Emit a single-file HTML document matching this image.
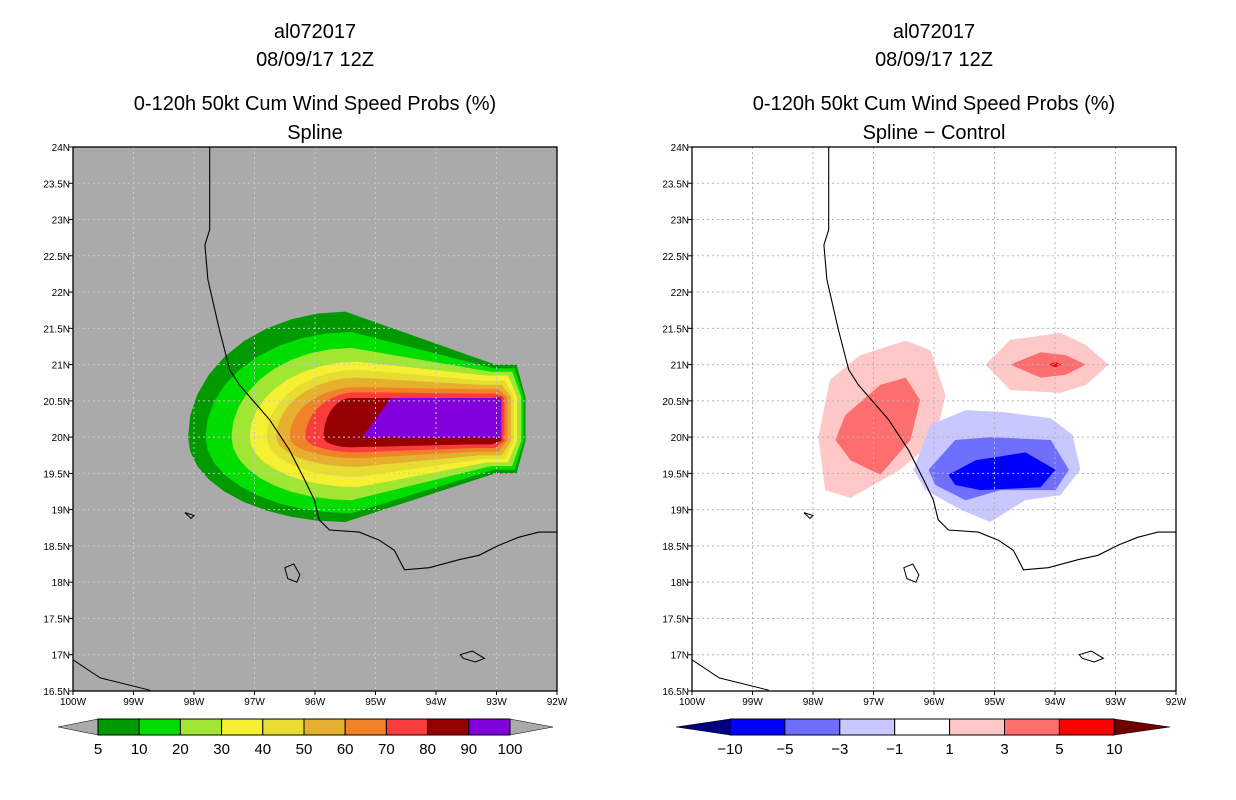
<!DOCTYPE html>
<html><head><meta charset="utf-8"><style>
body{margin:0;background:#fff;width:1236px;height:800px;overflow:hidden}
svg{display:block;font-family:"Liberation Sans",sans-serif}
</style></head><body>
<svg id="s" width="1236" height="800"></svg>
<script>
// ---- data ----
const probLevels=[5,10,20,30,40,50,60,70,80,90,100];
const probColors=["#009900","#00dd00","#a0e632","#f5f032","#e6dc32","#e6af2d","#f08228","#fa3c3c","#960000","#8200dc"];
// per-level contour shape (lon/lat)
const lvWest=[-98.10,-97.81,-97.38,-97.08,-96.80,-96.64,-96.42,-96.16,-95.86];
const lvEast=[-92.52,-92.55,-92.59,-92.66,-92.71,-92.76,-92.82,-92.87,-92.92];
const lvNorth=[21.73,21.45,21.23,21.04,20.93,20.82,20.69,20.62,20.54];
const lvSouth=[18.83,18.95,19.13,19.31,19.45,19.59,19.71,19.79,19.86];
const lvTailN=[21.0,20.95,20.9,20.85,20.78,20.72,20.66,20.6,20.54];
const lvTailS=[19.5,19.55,19.6,19.65,19.7,19.75,19.8,19.85,19.9];
const lvCrest=[-95.5,-95.4,-95.4,-95.3,-95.3,-95.3,-95.3,-95.3,-95.4];
const purpleLon=[-95.22,-94.74,-92.92,-92.92];
const purpleLat=[20.0,20.54,20.54,20.0];
// difference field polygons
const diffPolys=[
 {c:"#ffc8c8",lon:[-97.91,-97.72,-97.22,-96.47,-96.06,-95.81,-95.98,-96.56,-97.38,-97.80],lat:[20.0,20.79,21.13,21.33,21.20,20.58,19.96,19.55,19.16,19.27]},
 {c:"#ff6e6e",lon:[-97.63,-97.47,-96.89,-96.47,-96.23,-96.39,-96.89,-97.38],lat:[19.96,20.30,20.72,20.82,20.51,19.96,19.48,19.68]},
 {c:"#ffc8c8",lon:[-95.15,-94.74,-93.91,-93.49,-93.11,-93.49,-93.91,-94.74],lat:[21.0,21.34,21.44,21.27,21.0,20.72,20.61,20.65]},
 {c:"#ff6e6e",lon:[-94.74,-94.24,-93.82,-93.49,-93.82,-94.24],lat:[21.0,21.17,21.13,21.0,20.86,20.82]},
 {c:"#ff0000",lon:[-94.1,-94.0,-93.9,-94.0],lat:[21.0,21.04,21.0,20.96]},
 {c:"#c8c8ff",lon:[-96.34,-96.06,-95.48,-94.90,-94.07,-93.71,-93.58,-93.91,-94.49,-95.07,-95.56,-96.14],lat:[19.55,20.17,20.37,20.35,20.26,20.03,19.55,19.20,19.13,18.83,19.0,19.27]},
 {c:"#6e6eff",lon:[-96.09,-95.65,-95.07,-94.07,-93.77,-93.99,-94.90,-95.48,-95.98],lat:[19.55,19.96,20.0,19.96,19.55,19.27,19.27,19.13,19.34]},
 {c:"#0000ff",lon:[-95.76,-95.31,-94.49,-93.99,-94.24,-95.23,-95.65],lat:[19.48,19.68,19.79,19.55,19.31,19.27,19.34]}
];
const coastLon=[-97.74,-97.74,-97.82,-97.77,-97.58,-97.41,-97.25,-96.75,-96.42,-96.17,-96.01,-95.93,-95.76,-95.27,-94.94,-94.69,-94.52,-94.11,-93.62,-93.29,-92.96,-92.63,-92.30,-92.0];
const coastLat=[24,22.86,22.65,22.17,21.48,20.93,20.72,20.24,19.82,19.41,19.13,18.86,18.72,18.69,18.58,18.44,18.17,18.20,18.31,18.37,18.51,18.62,18.69,18.69];
const coast2Lon=[-100,-99.55,-98.73];const coast2Lat=[16.93,16.68,16.51];
const islands=[{lon:[-98.15,-98.0,-98.05,-98.15],lat:[18.96,18.92,18.88,18.96]},
 {lon:[-96.5,-96.35,-96.25,-96.3,-96.45],lat:[18.2,18.25,18.1,18.0,18.05]},
 {lon:[-93.6,-93.4,-93.2,-93.35,-93.55],lat:[17.0,17.05,16.95,16.9,16.95]}];
const latTicks=["24N","23.5N","23N","22.5N","22N","21.5N","21N","20.5N","20N","19.5N","19N","18.5N","18N","17.5N","17N","16.5N"];
const lonTicks=["100W","99W","98W","97W","96W","95W","94W","93W","92W"];
const diffLevels=["-10","-5","-3","-1","1","3","5","10"];
const diffColors=["#0000ff","#6e6eff","#c8c8ff","#ffffff","#ffc8c8","#ff6e6e","#ff0000"];

const NS="http://www.w3.org/2000/svg",S=document.getElementById('s');
function el(t,a,p){const e=document.createElementNS(NS,t);for(const k in a)e.setAttribute(k,a[k]);(p||S).appendChild(e);return e}
function txt(x,y,s,size,anchor,p){const e=el('text',{x:x,y:y,'font-size':size,'text-anchor':anchor||'middle',fill:'#000'},p);e.textContent=s;return e}
function mk(x0){return{x:lon=>x0+(lon+100)*60.5,y:lat=>147+(24-lat)*72.53}}
function pts(m,lons,lats){return lons.map((l,i)=>m.x(l).toFixed(1)+','+m.y(lats[i]).toFixed(1)).join(' ')}

function levelPoly(i){
 const W=lvWest[i],E=lvEast[i],N=lvNorth[i],Sx=lvSouth[i],cx=lvCrest[i];
 const lo=[],la=[];
 for(let a=180;a>=90;a-=10){const r=a*Math.PI/180;lo.push(cx+(cx-W)*Math.cos(r));la.push(20+(N-20)*Math.sin(r));}
 lo.push(E-0.5,E-0.15,E,E,E-0.15,E-0.5);la.push(lvTailN[i],lvTailN[i],20.55,19.95,lvTailS[i],lvTailS[i]);
 for(let a=270;a>=180;a-=10){const r=a*Math.PI/180;lo.push(cx+(cx-W)*Math.cos(r));la.push(20+(20-Sx)*Math.sin(r));}
 return [lo,la];
}

function panel(x0,bg,name,sub){
 const m=mk(x0),g=el('g',{});
 
 
 const bgr=el('rect',{x:x0,y:147,width:484,height:544,fill:bg},g);
 
 
 if(bg!=='#fff'){
  for(let i=0;i<lvWest.length;i++){const [lo,la]=levelPoly(i);
   const p=el('polygon',{points:pts(m,lo,la),fill:probColors[i]},g);
   
   }
  const p=el('polygon',{points:pts(m,purpleLon,purpleLat),fill:probColors[9]},g);
  
  
 } else {
  diffPolys.forEach((d,i)=>{const p=el('polygon',{points:pts(m,d.lon,d.lat),fill:d.c},g);
   
   });
 }
 // grid
 const gc=bg==='#fff'?'#b4b4b4':'#c8c8c8';
 for(let k=1;k<8;k++){const x=m.x(-100+k);el('line',{x1:x,y1:147,x2:x,y2:691,stroke:gc,'stroke-dasharray':'2,3'},g);}
 for(let k=1;k<15;k++){const y=m.y(16.5+k*0.5);el('line',{x1:x0,y1:y,x2:x0+484,y2:y,stroke:gc,'stroke-dasharray':'2,3'},g);}
 // coast
 const c=el('polyline',{points:pts(m,coastLon,coastLat),fill:'none',stroke:'#000','stroke-width':1.1},g);
 
 
 el('polyline',{points:pts(m,coast2Lon,coast2Lat),fill:'none',stroke:'#000'},g);
 islands.forEach(s=>el('polygon',{points:pts(m,s.lon,s.lat),fill:'none',stroke:'#000'},g));
 el('rect',{x:x0,y:147,width:484,height:544,fill:'none',stroke:'#000','stroke-width':1.3},g);
 latTicks.forEach((t,i)=>{const y=m.y(24-i*0.5);el('line',{x1:x0-4,y1:y,x2:x0,y2:y,stroke:'#000'},g);txt(x0-3,y+4,t,10,'end',g);});
 lonTicks.forEach((t,i)=>{const x=m.x(-100+i);el('line',{x1:x,y1:691,x2:x,y2:695,stroke:'#000'},g);txt(x,705,t,10,'middle',g);});
 const cx=x0+242;
 const t1=txt(cx,38,'al072017',20,'middle',g);
 const t2=txt(cx,66,'08/09/17 12Z',20,'middle',g);
 const t3=txt(cx,110,'0-120h 50kt Cum Wind Speed Probs (%)',20,'middle',g);
 const t4=txt(cx,139,sub,20,'middle',g);
}
panel(73,'#aaaaaa','left-map','Spline');
panel(692,'#fff','right-map','Spline \u2212 Control');

// left colorbar
(function(){const g=el('g',{});
 
 
 const x0=98,w=41.2,y=719,h=16;
 el('polygon',{points:`58,727 ${x0},${y} ${x0},${y+h}`,fill:'#aaaaaa',stroke:'#000','stroke-width':0.5},g);
 el('polygon',{points:`553,727 ${x0+10*w},${y} ${x0+10*w},${y+h}`,fill:'#aaaaaa',stroke:'#000','stroke-width':0.5},g);
 probColors.forEach((c,i)=>el('rect',{x:x0+i*w,y:y,width:w,height:h,fill:c,stroke:'#000'},g));
 probLevels.forEach((l,i)=>txt(x0+i*w,754,String(l),15,'middle',g));
})();
// right colorbar
(function(){const g=el('g',{});
 
 
 const x0=730,w=54.9,y=719,h=16;
 el('polygon',{points:`676,727 ${x0},${y} ${x0},${y+h}`,fill:'#000080',stroke:'#000','stroke-width':0.5},g);
 el('polygon',{points:`1170,727 ${x0+7*w},${y} ${x0+7*w},${y+h}`,fill:'#6e0000',stroke:'#000','stroke-width':0.5},g);
 diffColors.forEach((c,i)=>el('rect',{x:x0+i*w,y:y,width:w,height:h,fill:c,stroke:'#000'},g));
 diffLevels.forEach((l,i)=>txt(x0+i*w,754,l.replace('-','\u2212'),15,'middle',g));
})();
</script>
</body></html>
